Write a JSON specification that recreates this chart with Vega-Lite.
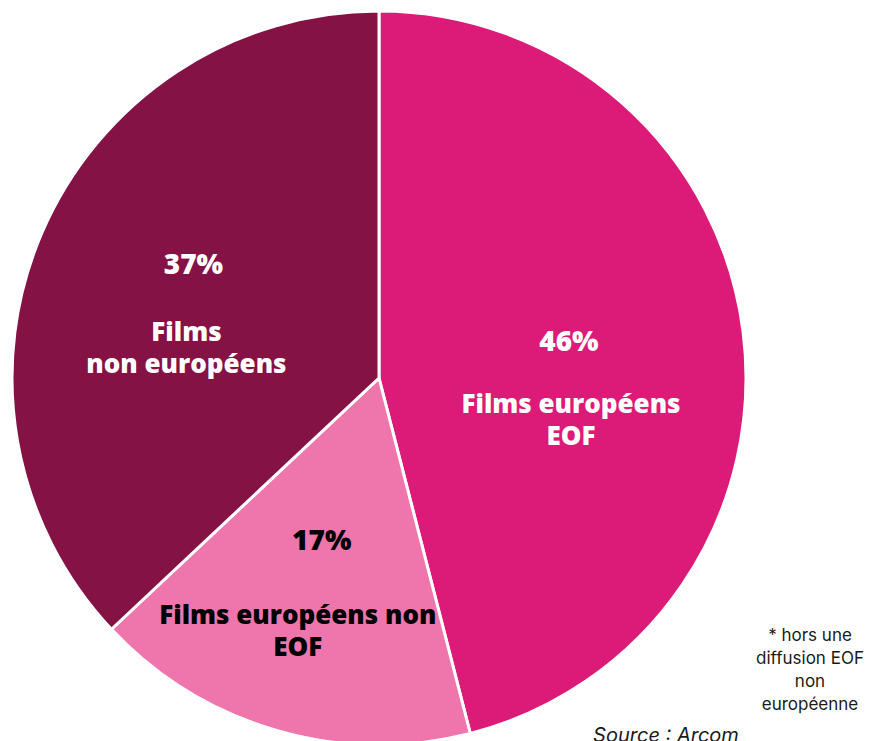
{
  "$schema": "https://vega.github.io/schema/vega-lite/v6.json",
  "width": 758,
  "height": 741,
  "autosize": {"type": "none"},
  "padding": {"left": 0, "top": 0, "right": 116, "bottom": 0},
  "background": "white",
  "config": {"view": {"stroke": null}, "text": {"font": "Open Sans"}},
  "data": {
    "values": [
      {"categorie": "Films européens EOF", "part": 46, "ordre": 1, "pct": "46%", "nom": "Films européens\nEOF"},
      {"categorie": "Films européens non EOF", "part": 17, "ordre": 2, "pct": "17%", "nom": "Films européens non\nEOF"},
      {"categorie": "Films non européens", "part": 37, "ordre": 3, "pct": "37%", "nom": "Films\nnon européens"}
    ]
  },
  "encoding": {
    "theta": {"field": "part", "type": "quantitative", "stack": true},
    "order": {"field": "ordre", "type": "quantitative"}
  },
  "layer": [
    {
      "mark": {"type": "arc", "radius": 367, "stroke": "white", "strokeWidth": 3, "yOffset": 7.5},
      "encoding": {
        "color": {
          "field": "categorie", "type": "nominal", "legend": null,
          "scale": {"domain": ["Films européens EOF", "Films européens non EOF", "Films non européens"], "range": ["#DC1A77", "#EE76AC", "#851245"]}
        }
      }
    },
    {
      "mark": {"type": "text", "radius": 192, "dx": -0.5, "dy": -11, "yOffset": 7.5, "fontSize": 28, "fontWeight": 800, "color": "white", "baseline": "middle", "align": "center"},
      "encoding": {
        "detail": {"field": "categorie", "type": "nominal"},
        "text": {"condition": {"test": "datum.categorie === 'Films européens EOF'", "field": "pct"}, "value": ""}
      }
    },
    {
      "mark": {"type": "text", "radius": 192, "dx": 1.5, "dy": 51, "yOffset": 7.5, "fontSize": 26, "fontWeight": 800, "color": "white", "baseline": "middle", "align": "center", "lineBreak": "\n", "lineHeight": 32},
      "encoding": {
        "detail": {"field": "categorie", "type": "nominal"},
        "text": {"condition": {"test": "datum.categorie === 'Films européens EOF'", "field": "nom"}, "value": ""}
      }
    },
    {
      "mark": {"type": "text", "radius": 180, "dx": -7, "dy": -9, "yOffset": 7.5, "fontSize": 28, "fontWeight": 800, "color": "black", "baseline": "middle", "align": "center"},
      "encoding": {
        "detail": {"field": "categorie", "type": "nominal"},
        "text": {"condition": {"test": "datum.categorie === 'Films européens non EOF'", "field": "pct"}, "value": ""}
      }
    },
    {
      "mark": {"type": "text", "radius": 180, "dx": -31, "dy": 65, "yOffset": 7.5, "fontSize": 26, "fontWeight": 800, "color": "black", "baseline": "middle", "align": "center", "lineBreak": "\n", "lineHeight": 32},
      "encoding": {
        "detail": {"field": "categorie", "type": "nominal"},
        "text": {"condition": {"test": "datum.categorie === 'Films européens non EOF'", "field": "nom"}, "value": ""}
      }
    },
    {
      "mark": {"type": "text", "radius": 200, "dx": -2, "dy": -33, "yOffset": 7.5, "fontSize": 28, "fontWeight": 800, "color": "white", "baseline": "middle", "align": "center"},
      "encoding": {
        "detail": {"field": "categorie", "type": "nominal"},
        "text": {"condition": {"test": "datum.categorie === 'Films non européens'", "field": "pct"}, "value": ""}
      }
    },
    {
      "mark": {"type": "text", "radius": 200, "dx": -9, "dy": 34, "yOffset": 7.5, "fontSize": 26, "fontWeight": 800, "color": "white", "baseline": "middle", "align": "center", "lineBreak": "\n", "lineHeight": 32},
      "encoding": {
        "detail": {"field": "categorie", "type": "nominal"},
        "text": {"condition": {"test": "datum.categorie === 'Films non européens'", "field": "nom"}, "value": ""}
      }
    },
    {
      "data": {"values": [{"note": "* hors une\ndiffusion EOF\nnon\neuropéenne"}]},
      "mark": {"type": "text", "font": "Inter", "fontSize": 17, "color": "#1a1a1a", "baseline": "middle", "align": "center", "lineBreak": "\n", "lineHeight": 23},
      "encoding": {
        "theta": null, "order": null,
        "x": {"value": 810},
        "y": {"value": 636},
        "text": {"field": "note", "type": "nominal"}
      }
    },
    {
      "data": {"values": [{"source": "Source : Arcom"}]},
      "mark": {"type": "text", "font": "Inter", "fontSize": 20, "fontStyle": "italic", "color": "#1a1a1a", "baseline": "middle", "align": "center"},
      "encoding": {
        "theta": null, "order": null,
        "x": {"value": 666},
        "y": {"value": 736},
        "text": {"field": "source", "type": "nominal"}
      }
    }
  ]
}
